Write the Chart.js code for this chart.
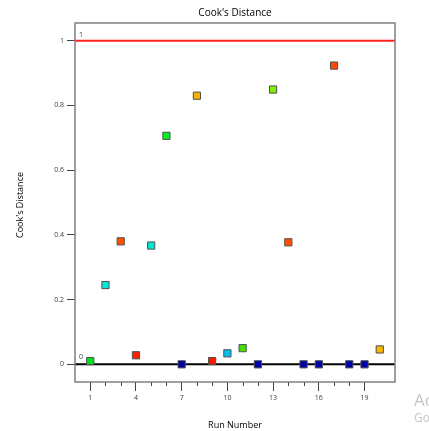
<!DOCTYPE html>
<html><head><meta charset="utf-8">
<script src="https://cdn.jsdelivr.net/npm/chart.js@4"></script>
<style>html,body{margin:0;padding:0;background:#fff;}canvas{display:block;}</style>
</head><body>
<canvas id="c" width="429" height="431"></canvas>
<script>
const runs = [1,2,3,4,5,6,7,8,9,10,11,12,13,14,15,16,17,18,19,20];
const cooksD = [0.01,0.245,0.38,0.028,0.367,0.706,0,0.83,0.01,0.034,0.05,0,0.849,0.377,0,0,0.923,0,0,0.046];
const pointColors = ['#00e020','#00e8d8','#ff5000','#ff2000','#00e8d8','#00f020','#0000a8','#f8b000','#ff1800','#00c0f0','#40e000','#0000a8','#80f000','#ff5000','#0000a8','#0000a8','#ff4800','#0000a8','#0000a8','#f8b800'];
const yTicks = [0,0.2,0.4,0.6,0.8,1];
const xLabelTicks = [1,4,7,10,13,16,19];
const limitLine = 1;
const zeroLine = 0;
const xRange = [0,21];

const FONT = '"Open Sans", "DejaVu Sans", sans-serif';

const frame = {
  id:'frame',
  afterDraw(chart){
    const {ctx, chartArea:a, scales} = chart;
    const xs = scales.x, ys = scales.y;
    ctx.save();
    ctx.strokeStyle = '#404040'; ctx.lineWidth = 1;
    for (let v = 2; v <= 18; v++) {
      if (xLabelTicks.includes(v)) continue;
      const px = Math.round(xs.getPixelForValue(v)) + 0.5;
      ctx.beginPath(); ctx.moveTo(px, a.bottom); ctx.lineTo(px, a.bottom + 4); ctx.stroke();
    }
    ctx.strokeStyle = '#808080'; ctx.lineWidth = 1.5;
    ctx.strokeRect(a.left, a.top, a.right - a.left, a.bottom - a.top);
    ctx.fillStyle = '#404040';
    ctx.font = '7px ' + FONT;
    ctx.textAlign = 'left'; ctx.textBaseline = 'middle';
    ctx.fillText(String(limitLine), a.left + 4, ys.getPixelForValue(limitLine) - 6);
    ctx.fillText(String(zeroLine), a.left + 4, ys.getPixelForValue(zeroLine) - 7);
    ctx.fillStyle = '#000';
    ctx.textAlign = 'center';
    ctx.font = '10px ' + FONT;
    ctx.fillText("Cook's Distance", (a.left + a.right)/2, 13);
    ctx.font = '9px ' + FONT;
    ctx.fillText('Run Number', (a.left + a.right)/2, 425);
    ctx.save();
    ctx.translate(20, 205);
    ctx.rotate(-Math.PI/2);
    ctx.fillText("Cook's Distance", 0, 0);
    ctx.restore();
    ctx.fillStyle = '#c4c4c4';
    ctx.textAlign = 'left';
    ctx.font = '17px ' + FONT;
    ctx.fillText('Ac', 414, 401);
    ctx.font = '12px ' + FONT;
    ctx.fillText('Go', 414, 419);
    ctx.restore();
  }
};

new Chart(document.getElementById('c'), {
  type: 'scatter',
  data: {
    datasets: [
      {
        type:'line',
        data: xRange.map(x => ({x, y: limitLine})),
        borderColor:'#ff2020', borderWidth:2, pointRadius:0, order:2
      },
      {
        type:'line',
        data: xRange.map(x => ({x, y: zeroLine})),
        borderColor:'#000000', borderWidth:2, pointRadius:0, order:2
      },
      {
        data: runs.map((r,i) => ({x:r, y:cooksD[i]})),
        pointStyle:'rect',
        pointRadius:5.1,
        pointHoverRadius:5.1,
        backgroundColor: pointColors,
        borderColor:'#505050',
        borderWidth:1,
        order:1
      }
    ]
  },
  options: {
    responsive:false,
    animation:false,
    events:[],
    layout:{padding:{top:23, right:34, left:0, bottom:0}},
    plugins:{legend:{display:false}, tooltip:{enabled:false}, title:{display:false}},
    scales:{
      x:{
        type:'linear', min:xRange[0], max:xRange[1],
        afterFit(s){ s.height = 49; },
        afterBuildTicks(s){ s.ticks = []; for (let v = xRange[0]; v <= xRange[1]; v++) s.ticks.push({value:v}); },
        grid:{
          drawOnChartArea:false, drawTicks:true, tickLength:9,
          tickColor: c => (c.tick && xLabelTicks.includes(c.tick.value)) ? '#404040' : 'rgba(0,0,0,0)',
          tickWidth:1
        },
        border:{display:false},
        ticks:{
          autoSkip:false, maxRotation:0, padding:3,
          font:{size:7, family:FONT}, color:'#404040',
          callback: v => xLabelTicks.includes(v) ? String(v) : ''
        }
      },
      y:{
        type:'linear', min:-0.0546, max:1.0546,
        afterFit(s){ s.width = 75; },
        afterBuildTicks(s){ s.ticks = yTicks.map(v => ({value:v})); },
        grid:{drawOnChartArea:false, drawTicks:true, tickLength:8, tickColor:'#404040', tickWidth:1},
        border:{display:false},
        ticks:{
          padding:3, font:{size:7, family:FONT}, color:'#404040',
          callback: v => String(v)
        }
      }
    }
  },
  plugins:[frame]
});
</script>
</body></html>
